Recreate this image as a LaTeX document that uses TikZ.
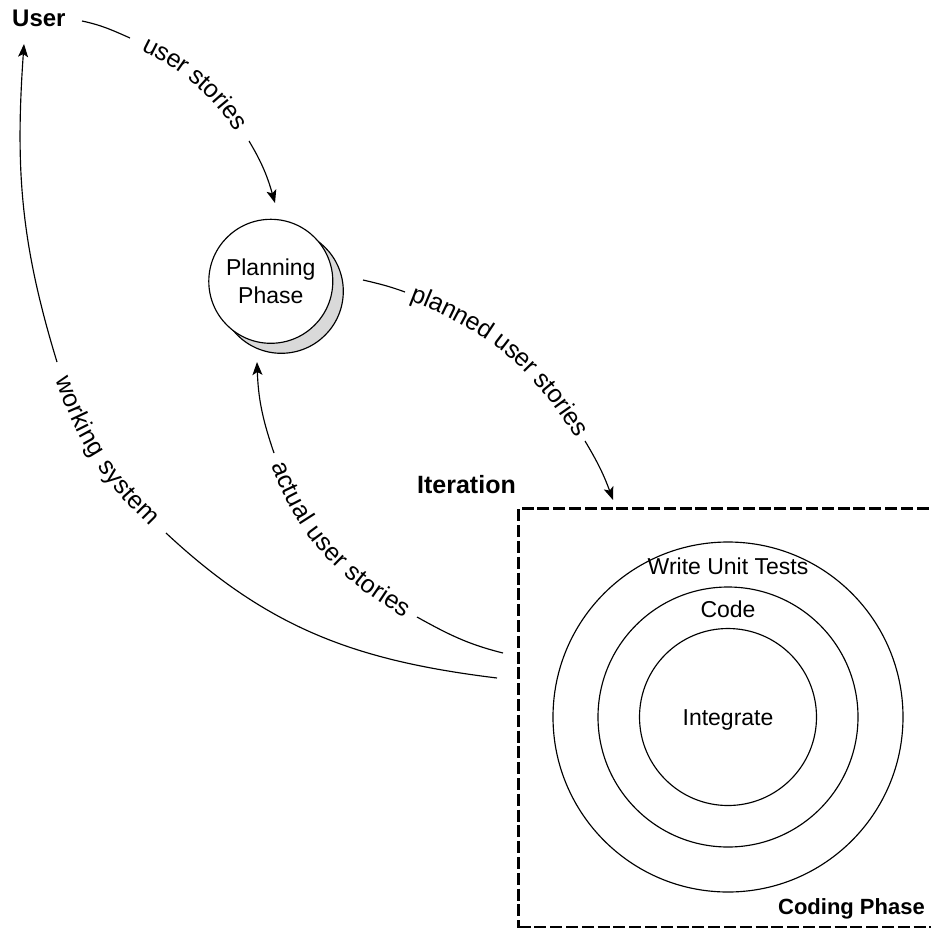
\documentclass[tikz,border=0pt]{standalone}
\usepackage{fontspec}
\setmainfont{Liberation Sans}
\usetikzlibrary{arrows.meta,decorations.text,calc}
\definecolor{shadegray}{RGB}{217,217,217}
\newcommand{\lblfont}{\fontsize{23pt}{27.7pt}\selectfont}
\newcommand{\curvefont}{\fontsize{25pt}{30pt}\selectfont}
\newcommand{\widecurvefont}{\fontsize{25pt}{30pt}\selectfont\addfontfeature{LetterSpace=7}}
\begin{document}
\begin{tikzpicture}[x=1pt,y=1pt,
  conn/.style={line width=1.15pt},
  arr/.style={conn,-{Stealth[length=13pt,width=10pt,inset=3pt]}},
  curvelbl/.style={decorate,decoration={text along path,text align=center,raise=-6.5pt,text={|\curvefont|#1}}},
  widecurvelbl/.style={decorate,decoration={text along path,text align=center,raise=-6.5pt,text={|\widecurvefont|#1}}},
  txt/.style={font=\lblfont,inner sep=0pt},
  boldtxt/.style={font=\fontsize{#1}{#1}\selectfont\bfseries,inner sep=0pt},
  ring/.style={circle,draw,line width=1.15pt,inner sep=0pt},
]
\useasboundingbox (0,0) rectangle (931,-927);
\clip (0,0) rectangle (931,-927);

% ---- nodes ----
\node[boldtxt=24pt,anchor=base west] (user) at (12,-26) {User};

\coordinate (pc) at (270.8,-281.3);
\draw[line width=1.15pt,fill=shadegray] ($(pc)+(10.5,-10)$) circle[radius=62];
\node[ring,fill=white,minimum size=124pt,align=center,font=\lblfont] (plan) at (pc) {Planning\\Phase};

\node[boldtxt=25pt,anchor=base east] (iterlbl) at (516,-493.3) {Iteration};
\node[draw,line width=2.6pt,dash pattern=on 12pt off 3.8pt,anchor=north west,
      minimum width=430pt,minimum height=419pt,inner sep=0pt] (iter) at (517.3,-507.3) {};
\node[boldtxt=22pt,anchor=base east] (coding) at (925,-914.3) {Coding Phase};

\coordinate (rc) at (728,-717);
\node[ring,minimum size=350pt] (wut) at (rc) {};
\node[ring,minimum size=260pt] (code) at (rc) {};
\node[ring,minimum size=177pt] (integ) at (rc) {};
\node[txt,anchor=base] (wutlbl) at (728,-574) {Write Unit Tests};
\node[txt,anchor=base] (codelbl) at (728,-617.3) {Code};
\node[txt,anchor=base] (integlbl) at (728,-725) {Integrate};

% ---- connector: user stories ----
\coordinate (us-s) at (82,-21);
\coordinate (us-a) at (130,-38);
\coordinate (us-b) at (249,-141);
\coordinate (us-t) at (275,-203);
\draw[conn] (us-s) to[out=-12,in=156] (us-a);
\path[curvelbl={user stories}] (us-a) to[out=-24,in=121] (us-b);
\draw[arr] (us-b) to[out=-59,in=106] (us-t);

% ---- connector: planned user stories ----
\coordinate (pl-s) at (363,-280);
\coordinate (pl-a) at (405,-292);
\coordinate (pl-b) at (585,-441);
\coordinate (pl-t) at (613,-500);
\draw[conn] (pl-s) to[out=-13,in=160] (pl-a);
\path[curvelbl={planned user stories}] (pl-a) to[out=-20,in=121] (pl-b);
\draw[arr] (pl-b) to[out=-59,in=110] (pl-t);

% ---- connector: actual user stories ----
\coordinate (au-s) at (503,-653);
\coordinate (au-b) at (417,-617);
\coordinate (au-a) at (274,-453);
\coordinate (au-t) at (257,-362);
\draw[conn] (au-s) to[out=166,in=-29] (au-b);
\path[curvelbl={actual user stories}] (au-a) to[out=-71,in=151] (au-b);
\draw[arr] (au-a) to[out=109,in=-88] (au-t);

% ---- connector: working system ----
\coordinate (ws-s) at (497,-678);
\coordinate (ws-b) at (166,-533);
\coordinate (ws-a) at (57,-362);
\coordinate (ws-t) at (24,-44);
\draw[conn] (ws-s) to[out=173,in=-43] (ws-b);
\path[widecurvelbl={working system}] (ws-a) to[out=-73,in=137] (ws-b);
\draw[arr] (ws-a) to[out=107,in=-94] (ws-t);
\end{tikzpicture}
\end{document}
